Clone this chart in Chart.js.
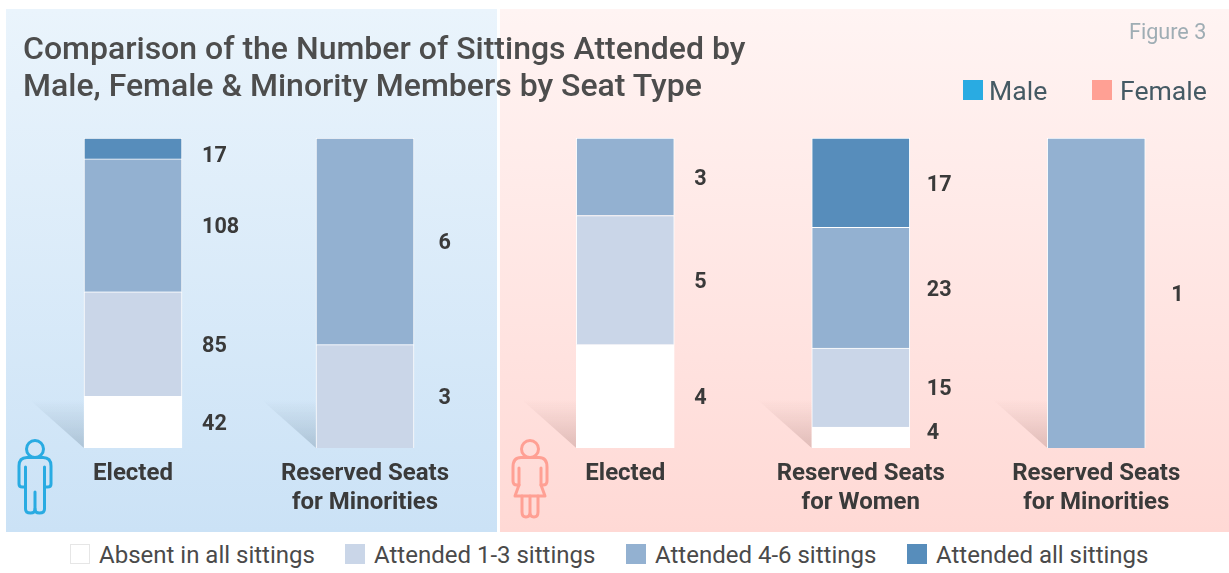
<!DOCTYPE html>
<html><head><meta charset="utf-8">
<script src="https://cdn.jsdelivr.net/npm/chart.js@4"></script>
<style>
html,body{margin:0;padding:0;background:#fff;width:1229px;height:573px;overflow:hidden;font-family:Roboto,sans-serif}
.abs{position:absolute}
#pm{left:6px;top:9px;width:491px;height:523px;background:linear-gradient(#eaf4fc,#cbe2f6)}
#pf{left:500px;top:9px;width:729px;height:523px;background:linear-gradient(#fff4f3,#ffd9d5)}
#title{left:23px;top:30px;font-size:32px;line-height:37px;font-weight:500;color:#4d4d4d;white-space:nowrap}
#fig{left:1129px;top:19px;font-size:21.6px;color:#9fadb4;white-space:nowrap}
.lg{font-size:26.6px;color:#455a64;white-space:nowrap}
.sw{width:20px;height:20px}
.bl{font-size:24px;color:#4a4a4a;white-space:nowrap;top:541px}
.bs{width:20px;height:20px;top:544px;box-sizing:border-box}
canvas{position:absolute}
</style></head><body>
<div class="abs" id="pm"></div><div class="abs" id="pf"></div>
<div class="abs" style="left:0;top:0;width:497px;height:532px"><canvas id="cm"></canvas></div>
<div class="abs" style="left:500px;top:0;width:729px;height:532px"><canvas id="cf"></canvas></div>
<div class="abs" id="title">Comparison of the Number of Sittings Attended by<br>Male, Female &amp; Minority Members by Seat Type</div>
<div class="abs" id="fig">Figure 3</div>
<div class="abs sw" style="left:963px;top:80px;background:#29abe2"></div><div class="abs lg" style="left:989px;top:75px">Male</div>
<div class="abs sw" style="left:1092px;top:80px;background:#ffa094"></div><div class="abs lg" style="left:1120px;top:75px">Female</div>
<div class="abs bs" style="left:70px;background:#fff;border:1px solid #e6e6e6"></div><div class="abs bl" style="left:99px">Absent in all sittings</div>
<div class="abs bs" style="left:345px;background:#cad6e8"></div><div class="abs bl" style="left:374px">Attended 1-3 sittings</div>
<div class="abs bs" style="left:626px;background:#93b1d1"></div><div class="abs bl" style="left:655px">Attended 4-6 sittings</div>
<div class="abs bs" style="left:907px;background:#578dbb"></div><div class="abs bl" style="left:936px">Attended all sittings</div>
<svg class="abs" style="left:15px;top:437px" width="40" height="80" fill="none" stroke="#29abe2" stroke-width="3" stroke-linecap="round" stroke-linejoin="round">
<circle cx="20" cy="12" r="8.5"/>
<path d="M12 20.5 H28 Q36 20.5 36 29 V47 Q36 50 32.5 50 H29.5 V72 Q29.5 76 24.5 76 Q20 76 20 72 Q20 76 15.5 76 Q10.5 76 10.5 72 V50 H7.5 Q4 50 4 47 V29 Q4 20.5 12 20.5 Z"/>
<path d="M10.5 30 V50 M29.5 30 V50 M20 55 V72"/></svg>
<svg class="abs" style="left:510px;top:437px" width="40" height="84" fill="none" stroke="#ffa094" stroke-width="3" stroke-linecap="round" stroke-linejoin="round">
<circle cx="20" cy="12" r="8.5"/>
<path d="M11 20.5 H29 Q37 20.5 37 30 V44 Q37 48 33 48 H31 L35 59 H5 L9 48 H7 Q3 48 3 44 V30 Q3 20.5 11 20.5 Z"/>
<path d="M9 31 V48 M31 31 V48 M12 59 V75 Q12 80 16 80 Q20 80 20 75 V59 M20 75 Q20 80 24 80 Q28 80 28 75 V59"/></svg>
<script>
const maleCategories = [["Elected"], ["Reserved Seats", "for Minorities"]];
const maleAbsent = [42, 0];
const maleOneToThree = [85, 3];
const maleFourToSix = [108, 6];
const maleAll = [17, 0];

const femaleCategories = [["Elected"], ["Reserved Seats", "for Women"], ["Reserved Seats", "for Minorities"]];
const femaleAbsent = [4, 4, 0];
const femaleOneToThree = [5, 15, 0];
const femaleFourToSix = [3, 23, 1];
const femaleAll = [0, 17, 0];

const seriesNames = ["Absent in all sittings", "Attended 1-3 sittings", "Attended 4-6 sittings", "Attended all sittings"];
const seriesColors = ["#ffffff", "#cad6e8", "#93b1d1", "#578dbb"];

// label placement only (style, not data)
const maleLabelX = [20, 24.5];
const femaleLabelX = [20, 17, 26];
const maleNudge = {"3:0": 6};
const femaleNudge = {"0:1": -6};

const labelPlugin = (labelX, nudge, shadow) => ({
  id: "segLabels",
  beforeDatasetsDraw(chart) {
    const ctx = chart.ctx, meta = chart.getDatasetMeta(0), bottom = chart.scales.y.getPixelForValue(0);
    meta.data.forEach(el => {
      const x = el.x - 49, h = 48, w = 54, top = bottom - h;
      const g = ctx.createLinearGradient(0, top, 0, bottom);
      g.addColorStop(0, shadow[0]); g.addColorStop(1, shadow[1]);
      ctx.save(); ctx.fillStyle = g; ctx.beginPath();
      ctx.moveTo(x - w, top); ctx.lineTo(x, top); ctx.lineTo(x, bottom); ctx.closePath(); ctx.fill(); ctx.restore();
    });
  },
  afterDatasetsDraw(chart) {
    const ctx = chart.ctx;
    ctx.save();
    ctx.font = "700 21.6px Roboto"; ctx.fillStyle = "#3a3a3a"; ctx.textAlign = "left"; ctx.textBaseline = "middle";
    chart.data.datasets.forEach((ds, i) => {
      chart.getDatasetMeta(i).data.forEach((el, j) => {
        if (!ds.counts[j]) return;
        const mid = (el.y + el.base) / 2;
        ctx.fillText(String(ds.counts[j]), el.x + 49 + labelX[j], mid + 2.5 + (nudge[i + ":" + j] || 0));
      });
    });
    ctx.restore();
  }
});

function build(id, cats, series, padding, labelX, nudge, shadow) {
  const totals = cats.map((_, j) => series.reduce((s, a) => s + a[j], 0));
  new Chart(document.getElementById(id), {
    type: "bar",
    data: {
      labels: cats,
      datasets: series.map((vals, i) => ({
        label: seriesNames[i],
        counts: vals,
        data: vals.map((v, j) => v / totals[j] * 100),
        backgroundColor: seriesColors[i],
        borderColor: "#ffffff",
        borderWidth: 1,
        barThickness: 98
      }))
    },
    options: {
      responsive: true, maintainAspectRatio: false, animation: false,
      layout: { padding },
      plugins: { legend: { display: false }, tooltip: { enabled: false } },
      scales: {
        x: {
          stacked: true,
          grid: { display: false },
          border: { display: false },
          afterFit(s) { s.height = 84; },
          ticks: { autoSkip: false, maxRotation: 0, minRotation: 0, padding: 4, color: "#3a3a3a",
                   font: { family: "Roboto", size: 24, weight: "700", lineHeight: 1.2 } }
        },
        y: { stacked: true, display: false, min: 0, max: 100 }
      }
    },
    plugins: [labelPlugin(labelX, nudge, shadow)]
  });
}
build("cm", maleCategories, [maleAbsent, maleOneToThree, maleFourToSix, maleAll],
  { left: 17, right: 16, top: 138, bottom: 0 }, maleLabelX, maleNudge, ["rgba(120,145,165,0)", "rgba(120,145,165,0.4)"]);
build("cf", femaleCategories, [femaleAbsent, femaleOneToThree, femaleFourToSix, femaleAll],
  { left: 7.5, right: 15, top: 138, bottom: 0 }, femaleLabelX, femaleNudge, ["rgba(170,130,125,0)", "rgba(170,130,125,0.36)"]);
</script>
</body></html>
